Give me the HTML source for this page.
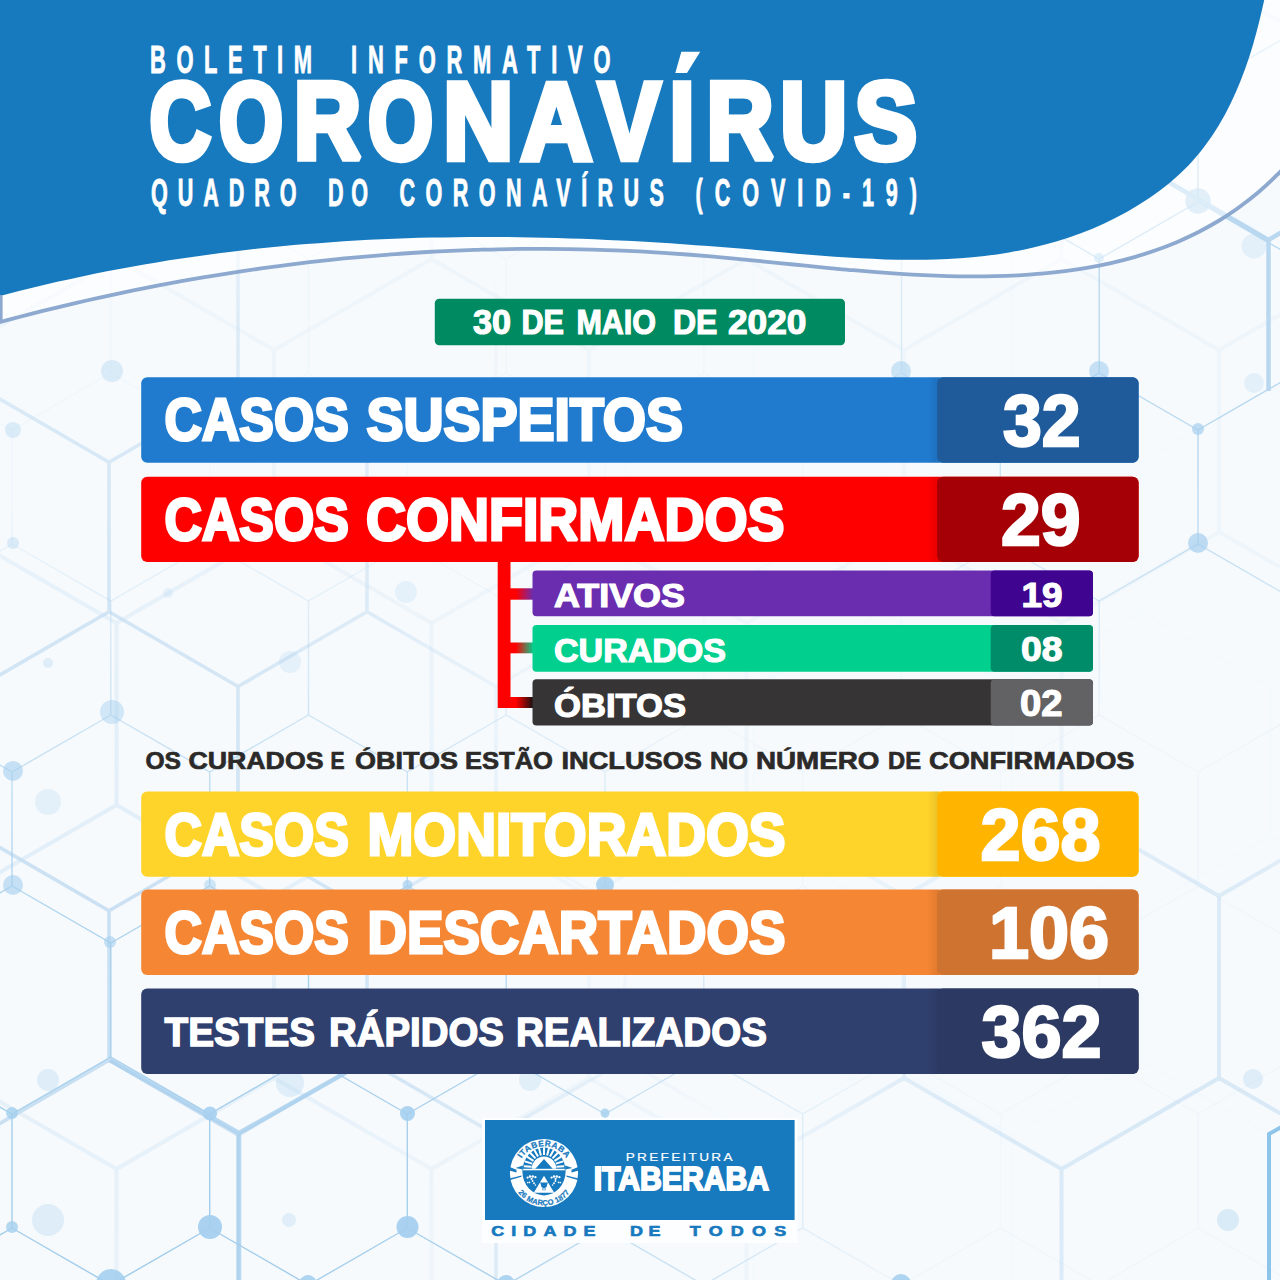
<!DOCTYPE html>
<html lang="pt-BR">
<head>
<meta charset="utf-8">
<title>Boletim Informativo Coronavírus - Prefeitura de Itaberaba</title>
<style>
html,body{margin:0;padding:0;background:#f6fafd;}
body{width:1280px;height:1280px;overflow:hidden;font-family:"Liberation Sans",sans-serif;}
svg{display:block;font-family:"Liberation Sans",sans-serif;}
</style>
</head>
<body>
<svg width="1280" height="1280" viewBox="0 0 1280 1280">
<defs>
<linearGradient id="gp" x1="0" x2="1" y1="0" y2="0"><stop offset="0.25" stop-color="#ff0000"/><stop offset="1" stop-color="#6a2db0"/></linearGradient>
<linearGradient id="gg" x1="0" x2="1" y1="0" y2="0"><stop offset="0.25" stop-color="#ff0000"/><stop offset="1" stop-color="#00cf8e"/></linearGradient>
<linearGradient id="gk" x1="0" x2="1" y1="0" y2="0"><stop offset="0.25" stop-color="#ff0000"/><stop offset="1" stop-color="#111111"/></linearGradient>
<linearGradient id="sh" x1="0" x2="1" y1="0" y2="0"><stop offset="0" stop-color="#000" stop-opacity="0"/><stop offset="1" stop-color="#000" stop-opacity="0.09"/></linearGradient>
<radialGradient id="rA1" gradientUnits="userSpaceOnUse" cx="150" cy="1250" r="760"><stop offset="0" stop-color="#fff"/><stop offset="0.45" stop-color="#fff" stop-opacity="0.85"/><stop offset="1" stop-color="#fff" stop-opacity="0"/></radialGradient>
<radialGradient id="rA2" gradientUnits="userSpaceOnUse" cx="1230" cy="330" r="420"><stop offset="0" stop-color="#fff" stop-opacity="0.8"/><stop offset="0.5" stop-color="#fff" stop-opacity="0.6"/><stop offset="1" stop-color="#fff" stop-opacity="0"/></radialGradient>
<radialGradient id="rB1" gradientUnits="userSpaceOnUse" cx="100" cy="1200" r="620"><stop offset="0" stop-color="#fff"/><stop offset="0.5" stop-color="#fff" stop-opacity="0.7"/><stop offset="1" stop-color="#fff" stop-opacity="0"/></radialGradient>
<radialGradient id="rB2" gradientUnits="userSpaceOnUse" cx="60" cy="600" r="540"><stop offset="0" stop-color="#fff" stop-opacity="0.7"/><stop offset="0.6" stop-color="#fff" stop-opacity="0.45"/><stop offset="1" stop-color="#fff" stop-opacity="0"/></radialGradient>
<radialGradient id="rC1" gradientUnits="userSpaceOnUse" cx="1180" cy="1120" r="430"><stop offset="0" stop-color="#fff"/><stop offset="0.55" stop-color="#fff" stop-opacity="0.8"/><stop offset="1" stop-color="#fff" stop-opacity="0"/></radialGradient>
<radialGradient id="rC2" gradientUnits="userSpaceOnUse" cx="60" cy="900" r="520"><stop offset="0" stop-color="#fff" stop-opacity="0.6"/><stop offset="0.6" stop-color="#fff" stop-opacity="0.35"/><stop offset="1" stop-color="#fff" stop-opacity="0"/></radialGradient>
<mask id="mA" maskUnits="userSpaceOnUse" x="0" y="0" width="1280" height="1280"><rect width="1280" height="1280" fill="#000"/><rect width="1280" height="1280" fill="#fff" opacity="0.07"/><rect width="1280" height="1280" fill="url(#rA1)"/><rect width="1280" height="1280" fill="url(#rA2)"/></mask>
<mask id="mB" maskUnits="userSpaceOnUse" x="0" y="0" width="1280" height="1280"><rect width="1280" height="1280" fill="#000"/><rect width="1280" height="1280" fill="#fff" opacity="0.03"/><rect width="1280" height="1280" fill="url(#rB1)"/><rect width="1280" height="1280" fill="url(#rB2)"/></mask>
<mask id="mC" maskUnits="userSpaceOnUse" x="0" y="0" width="1280" height="1280"><rect width="1280" height="1280" fill="#000"/><rect width="1280" height="1280" fill="#fff" opacity="0.22"/><rect width="1280" height="1280" fill="url(#rC1)"/><rect width="1280" height="1280" fill="url(#rC2)"/></mask>
</defs>
<rect x="0" y="0" width="1280" height="1280" fill="#f6fafd"/>
<g fill="none" stroke-linecap="round">
<path mask="url(#mC)" d="M-41.0,-196.0L-41.0,-14.0 M-41.0,-14.0L116.5,77.0 M-41.0,-14.0L-198.5,77.0 M274.0,-196.0L274.0,-14.0 M274.0,-14.0L431.5,77.0 M274.0,-14.0L116.5,77.0 M589.0,-196.0L589.0,-14.0 M589.0,-14.0L746.5,77.0 M589.0,-14.0L431.5,77.0 M904.0,-196.0L904.0,-14.0 M904.0,-14.0L1061.5,77.0 M904.0,-14.0L746.5,77.0 M1219.0,-196.0L1219.0,-14.0 M1219.0,-14.0L1376.5,77.0 M1219.0,-14.0L1061.5,77.0 M-198.5,77.0L-198.5,259.0 M-198.5,259.0L-41.0,350.0 M-198.5,259.0L-356.0,350.0 M116.5,77.0L116.5,259.0 M116.5,259.0L274.0,350.0 M116.5,259.0L-41.0,350.0 M431.5,77.0L431.5,259.0 M431.5,259.0L589.0,350.0 M431.5,259.0L274.0,350.0 M746.5,77.0L746.5,259.0 M746.5,259.0L904.0,350.0 M746.5,259.0L589.0,350.0 M1061.5,77.0L1061.5,259.0 M1061.5,259.0L1219.0,350.0 M1061.5,259.0L904.0,350.0 M1376.5,77.0L1376.5,259.0 M1376.5,259.0L1534.0,350.0 M1376.5,259.0L1219.0,350.0 M-41.0,350.0L-41.0,532.0 M-41.0,532.0L116.5,623.0 M-41.0,532.0L-198.5,623.0 M274.0,350.0L274.0,532.0 M274.0,532.0L431.5,623.0 M274.0,532.0L116.5,623.0 M589.0,350.0L589.0,532.0 M589.0,532.0L746.5,623.0 M589.0,532.0L431.5,623.0 M904.0,350.0L904.0,532.0 M904.0,532.0L1061.5,623.0 M904.0,532.0L746.5,623.0 M1219.0,350.0L1219.0,532.0 M1219.0,532.0L1376.5,623.0 M1219.0,532.0L1061.5,623.0 M-198.5,623.0L-198.5,805.0 M-198.5,805.0L-41.0,896.0 M-198.5,805.0L-356.0,896.0 M116.5,623.0L116.5,805.0 M116.5,805.0L274.0,896.0 M116.5,805.0L-41.0,896.0 M431.5,623.0L431.5,805.0 M431.5,805.0L589.0,896.0 M431.5,805.0L274.0,896.0 M746.5,623.0L746.5,805.0 M746.5,805.0L904.0,896.0 M746.5,805.0L589.0,896.0 M1061.5,623.0L1061.5,805.0 M1061.5,805.0L1219.0,896.0 M1061.5,805.0L904.0,896.0 M1376.5,623.0L1376.5,805.0 M1376.5,805.0L1534.0,896.0 M1376.5,805.0L1219.0,896.0 M-41.0,896.0L-41.0,1078.0 M-41.0,1078.0L116.5,1169.0 M-41.0,1078.0L-198.5,1169.0 M274.0,896.0L274.0,1078.0 M274.0,1078.0L431.5,1169.0 M274.0,1078.0L116.5,1169.0 M589.0,896.0L589.0,1078.0 M589.0,1078.0L746.5,1169.0 M589.0,1078.0L431.5,1169.0 M904.0,896.0L904.0,1078.0 M904.0,1078.0L1061.5,1169.0 M904.0,1078.0L746.5,1169.0 M1219.0,896.0L1219.0,1078.0 M1219.0,1078.0L1376.5,1169.0 M1219.0,1078.0L1061.5,1169.0 M-198.5,1169.0L-198.5,1351.0 M-198.5,1351.0L-41.0,1442.0 M-198.5,1351.0L-356.0,1442.0 M116.5,1169.0L116.5,1351.0 M116.5,1351.0L274.0,1442.0 M116.5,1351.0L-41.0,1442.0 M431.5,1169.0L431.5,1351.0 M431.5,1351.0L589.0,1442.0 M431.5,1351.0L274.0,1442.0 M746.5,1169.0L746.5,1351.0 M746.5,1351.0L904.0,1442.0 M746.5,1351.0L589.0,1442.0 M1061.5,1169.0L1061.5,1351.0 M1061.5,1351.0L1219.0,1442.0 M1061.5,1351.0L904.0,1442.0 M1376.5,1169.0L1376.5,1351.0 M1376.5,1351.0L1534.0,1442.0 M1376.5,1351.0L1219.0,1442.0" stroke="#d7e8f6" stroke-width="4"/>
<path mask="url(#mB)" d="M-20.0,-210.5L-20.0,-61.0 M-20.0,-61.0L109.0,13.8 M-20.0,-61.0L-149.0,13.8 M238.0,-210.5L238.0,-61.0 M238.0,-61.0L367.0,13.8 M238.0,-61.0L109.0,13.8 M496.0,-210.5L496.0,-61.0 M496.0,-61.0L625.0,13.8 M496.0,-61.0L367.0,13.8 M754.0,-210.5L754.0,-61.0 M754.0,-61.0L883.0,13.8 M754.0,-61.0L625.0,13.8 M1012.0,-210.5L1012.0,-61.0 M1012.0,-61.0L1141.0,13.8 M1012.0,-61.0L883.0,13.8 M1270.0,-210.5L1270.0,-61.0 M1270.0,-61.0L1399.0,13.8 M1270.0,-61.0L1141.0,13.8 M-149.0,13.8L-149.0,163.2 M-149.0,163.2L-20.0,238.0 M-149.0,163.2L-278.0,238.0 M109.0,13.8L109.0,163.2 M109.0,163.2L238.0,238.0 M109.0,163.2L-20.0,238.0 M367.0,13.8L367.0,163.2 M367.0,163.2L496.0,238.0 M367.0,163.2L238.0,238.0 M625.0,13.8L625.0,163.2 M625.0,163.2L754.0,238.0 M625.0,163.2L496.0,238.0 M883.0,13.8L883.0,163.2 M883.0,163.2L1012.0,238.0 M883.0,163.2L754.0,238.0 M1141.0,13.8L1141.0,163.2 M1141.0,163.2L1270.0,238.0 M1141.0,163.2L1012.0,238.0 M1399.0,13.8L1399.0,163.2 M1399.0,163.2L1528.0,238.0 M1399.0,163.2L1270.0,238.0 M-20.0,238.0L-20.0,387.5 M-20.0,387.5L109.0,462.2 M-20.0,387.5L-149.0,462.2 M238.0,238.0L238.0,387.5 M238.0,387.5L367.0,462.2 M238.0,387.5L109.0,462.2 M496.0,238.0L496.0,387.5 M496.0,387.5L625.0,462.2 M496.0,387.5L367.0,462.2 M754.0,238.0L754.0,387.5 M754.0,387.5L883.0,462.2 M754.0,387.5L625.0,462.2 M1012.0,238.0L1012.0,387.5 M1012.0,387.5L1141.0,462.2 M1012.0,387.5L883.0,462.2 M1270.0,238.0L1270.0,387.5 M1270.0,387.5L1399.0,462.2 M1270.0,387.5L1141.0,462.2 M-149.0,462.2L-149.0,611.8 M-149.0,611.8L-20.0,686.5 M-149.0,611.8L-278.0,686.5 M109.0,462.2L109.0,611.8 M109.0,611.8L238.0,686.5 M109.0,611.8L-20.0,686.5 M367.0,462.2L367.0,611.8 M367.0,611.8L496.0,686.5 M367.0,611.8L238.0,686.5 M625.0,462.2L625.0,611.8 M625.0,611.8L754.0,686.5 M625.0,611.8L496.0,686.5 M883.0,462.2L883.0,611.8 M883.0,611.8L1012.0,686.5 M883.0,611.8L754.0,686.5 M1141.0,462.2L1141.0,611.8 M1141.0,611.8L1270.0,686.5 M1141.0,611.8L1012.0,686.5 M1399.0,462.2L1399.0,611.8 M1399.0,611.8L1528.0,686.5 M1399.0,611.8L1270.0,686.5 M-20.0,686.5L-20.0,836.0 M-20.0,836.0L109.0,910.8 M-20.0,836.0L-149.0,910.8 M238.0,686.5L238.0,836.0 M238.0,836.0L367.0,910.8 M238.0,836.0L109.0,910.8 M496.0,686.5L496.0,836.0 M496.0,836.0L625.0,910.8 M496.0,836.0L367.0,910.8 M754.0,686.5L754.0,836.0 M754.0,836.0L883.0,910.8 M754.0,836.0L625.0,910.8 M1012.0,686.5L1012.0,836.0 M1012.0,836.0L1141.0,910.8 M1012.0,836.0L883.0,910.8 M1270.0,686.5L1270.0,836.0 M1270.0,836.0L1399.0,910.8 M1270.0,836.0L1141.0,910.8 M-149.0,910.8L-149.0,1060.2 M-149.0,1060.2L-20.0,1135.0 M-149.0,1060.2L-278.0,1135.0 M109.0,910.8L109.0,1060.2 M109.0,1060.2L238.0,1135.0 M109.0,1060.2L-20.0,1135.0 M367.0,910.8L367.0,1060.2 M367.0,1060.2L496.0,1135.0 M367.0,1060.2L238.0,1135.0 M625.0,910.8L625.0,1060.2 M625.0,1060.2L754.0,1135.0 M625.0,1060.2L496.0,1135.0 M883.0,910.8L883.0,1060.2 M883.0,1060.2L1012.0,1135.0 M883.0,1060.2L754.0,1135.0 M1141.0,910.8L1141.0,1060.2 M1141.0,1060.2L1270.0,1135.0 M1141.0,1060.2L1012.0,1135.0 M1399.0,910.8L1399.0,1060.2 M1399.0,1060.2L1528.0,1135.0 M1399.0,1060.2L1270.0,1135.0 M-20.0,1135.0L-20.0,1284.5 M-20.0,1284.5L109.0,1359.2 M-20.0,1284.5L-149.0,1359.2 M238.0,1135.0L238.0,1284.5 M238.0,1284.5L367.0,1359.2 M238.0,1284.5L109.0,1359.2 M496.0,1135.0L496.0,1284.5 M496.0,1284.5L625.0,1359.2 M496.0,1284.5L367.0,1359.2 M754.0,1135.0L754.0,1284.5 M754.0,1284.5L883.0,1359.2 M754.0,1284.5L625.0,1359.2 M1012.0,1135.0L1012.0,1284.5 M1012.0,1284.5L1141.0,1359.2 M1012.0,1284.5L883.0,1359.2 M1270.0,1135.0L1270.0,1284.5 M1270.0,1284.5L1399.0,1359.2 M1270.0,1284.5L1141.0,1359.2" stroke="#c3dcf1" stroke-width="3.6"/>
<path mask="url(#mA)" d="M-86.9,-83.0L-86.9,31.0 M-86.9,31.0L12.0,88.0 M-86.9,31.0L-185.7,88.0 M110.8,-83.0L110.8,31.0 M110.8,31.0L209.7,88.0 M110.8,31.0L12.0,88.0 M308.5,-83.0L308.5,31.0 M308.5,31.0L407.3,88.0 M308.5,31.0L209.7,88.0 M506.2,-83.0L506.2,31.0 M506.2,31.0L605.0,88.0 M506.2,31.0L407.3,88.0 M703.8,-83.0L703.8,31.0 M703.8,31.0L802.7,88.0 M703.8,31.0L605.0,88.0 M901.5,-83.0L901.5,31.0 M901.5,31.0L1000.3,88.0 M901.5,31.0L802.7,88.0 M1099.2,-83.0L1099.2,31.0 M1099.2,31.0L1198.0,88.0 M1099.2,31.0L1000.3,88.0 M1296.8,-83.0L1296.8,31.0 M1296.8,31.0L1395.7,88.0 M1296.8,31.0L1198.0,88.0 M12.0,88.0L12.0,202.0 M12.0,202.0L110.8,259.0 M12.0,202.0L-86.9,259.0 M209.7,88.0L209.7,202.0 M209.7,202.0L308.5,259.0 M209.7,202.0L110.8,259.0 M407.3,88.0L407.3,202.0 M407.3,202.0L506.2,259.0 M407.3,202.0L308.5,259.0 M605.0,88.0L605.0,202.0 M605.0,202.0L703.8,259.0 M605.0,202.0L506.2,259.0 M802.7,88.0L802.7,202.0 M802.7,202.0L901.5,259.0 M802.7,202.0L703.8,259.0 M1000.3,88.0L1000.3,202.0 M1000.3,202.0L1099.2,259.0 M1000.3,202.0L901.5,259.0 M1198.0,88.0L1198.0,202.0 M1198.0,202.0L1296.8,259.0 M1198.0,202.0L1099.2,259.0 M1395.7,88.0L1395.7,202.0 M1395.7,202.0L1494.5,259.0 M1395.7,202.0L1296.8,259.0 M-86.9,259.0L-86.9,373.0 M-86.9,373.0L12.0,430.0 M-86.9,373.0L-185.7,430.0 M110.8,259.0L110.8,373.0 M110.8,373.0L209.7,430.0 M110.8,373.0L12.0,430.0 M308.5,259.0L308.5,373.0 M308.5,373.0L407.3,430.0 M308.5,373.0L209.7,430.0 M506.2,259.0L506.2,373.0 M506.2,373.0L605.0,430.0 M506.2,373.0L407.3,430.0 M703.8,259.0L703.8,373.0 M703.8,373.0L802.7,430.0 M703.8,373.0L605.0,430.0 M901.5,259.0L901.5,373.0 M901.5,373.0L1000.3,430.0 M901.5,373.0L802.7,430.0 M1099.2,259.0L1099.2,373.0 M1099.2,373.0L1198.0,430.0 M1099.2,373.0L1000.3,430.0 M1296.8,259.0L1296.8,373.0 M1296.8,373.0L1395.7,430.0 M1296.8,373.0L1198.0,430.0 M12.0,430.0L12.0,544.0 M12.0,544.0L110.8,601.0 M12.0,544.0L-86.9,601.0 M209.7,430.0L209.7,544.0 M209.7,544.0L308.5,601.0 M209.7,544.0L110.8,601.0 M407.3,430.0L407.3,544.0 M407.3,544.0L506.2,601.0 M407.3,544.0L308.5,601.0 M605.0,430.0L605.0,544.0 M605.0,544.0L703.8,601.0 M605.0,544.0L506.2,601.0 M802.7,430.0L802.7,544.0 M802.7,544.0L901.5,601.0 M802.7,544.0L703.8,601.0 M1000.3,430.0L1000.3,544.0 M1000.3,544.0L1099.2,601.0 M1000.3,544.0L901.5,601.0 M1198.0,430.0L1198.0,544.0 M1198.0,544.0L1296.8,601.0 M1198.0,544.0L1099.2,601.0 M1395.7,430.0L1395.7,544.0 M1395.7,544.0L1494.5,601.0 M1395.7,544.0L1296.8,601.0 M-86.9,601.0L-86.9,715.0 M-86.9,715.0L12.0,772.0 M-86.9,715.0L-185.7,772.0 M110.8,601.0L110.8,715.0 M110.8,715.0L209.7,772.0 M110.8,715.0L12.0,772.0 M308.5,601.0L308.5,715.0 M308.5,715.0L407.3,772.0 M308.5,715.0L209.7,772.0 M506.2,601.0L506.2,715.0 M506.2,715.0L605.0,772.0 M506.2,715.0L407.3,772.0 M703.8,601.0L703.8,715.0 M703.8,715.0L802.7,772.0 M703.8,715.0L605.0,772.0 M901.5,601.0L901.5,715.0 M901.5,715.0L1000.3,772.0 M901.5,715.0L802.7,772.0 M1099.2,601.0L1099.2,715.0 M1099.2,715.0L1198.0,772.0 M1099.2,715.0L1000.3,772.0 M1296.8,601.0L1296.8,715.0 M1296.8,715.0L1395.7,772.0 M1296.8,715.0L1198.0,772.0 M12.0,772.0L12.0,886.0 M12.0,886.0L110.8,943.0 M12.0,886.0L-86.9,943.0 M209.7,772.0L209.7,886.0 M209.7,886.0L308.5,943.0 M209.7,886.0L110.8,943.0 M407.3,772.0L407.3,886.0 M407.3,886.0L506.2,943.0 M407.3,886.0L308.5,943.0 M605.0,772.0L605.0,886.0 M605.0,886.0L703.8,943.0 M605.0,886.0L506.2,943.0 M802.7,772.0L802.7,886.0 M802.7,886.0L901.5,943.0 M802.7,886.0L703.8,943.0 M1000.3,772.0L1000.3,886.0 M1000.3,886.0L1099.2,943.0 M1000.3,886.0L901.5,943.0 M1198.0,772.0L1198.0,886.0 M1198.0,886.0L1296.8,943.0 M1198.0,886.0L1099.2,943.0 M1395.7,772.0L1395.7,886.0 M1395.7,886.0L1494.5,943.0 M1395.7,886.0L1296.8,943.0 M-86.9,943.0L-86.9,1057.0 M-86.9,1057.0L12.0,1114.0 M-86.9,1057.0L-185.7,1114.0 M110.8,943.0L110.8,1057.0 M110.8,1057.0L209.7,1114.0 M110.8,1057.0L12.0,1114.0 M308.5,943.0L308.5,1057.0 M308.5,1057.0L407.3,1114.0 M308.5,1057.0L209.7,1114.0 M506.2,943.0L506.2,1057.0 M506.2,1057.0L605.0,1114.0 M506.2,1057.0L407.3,1114.0 M703.8,943.0L703.8,1057.0 M703.8,1057.0L802.7,1114.0 M703.8,1057.0L605.0,1114.0 M901.5,943.0L901.5,1057.0 M901.5,1057.0L1000.3,1114.0 M901.5,1057.0L802.7,1114.0 M1099.2,943.0L1099.2,1057.0 M1099.2,1057.0L1198.0,1114.0 M1099.2,1057.0L1000.3,1114.0 M1296.8,943.0L1296.8,1057.0 M1296.8,1057.0L1395.7,1114.0 M1296.8,1057.0L1198.0,1114.0 M12.0,1114.0L12.0,1228.0 M12.0,1228.0L110.8,1285.0 M12.0,1228.0L-86.9,1285.0 M209.7,1114.0L209.7,1228.0 M209.7,1228.0L308.5,1285.0 M209.7,1228.0L110.8,1285.0 M407.3,1114.0L407.3,1228.0 M407.3,1228.0L506.2,1285.0 M407.3,1228.0L308.5,1285.0 M605.0,1114.0L605.0,1228.0 M605.0,1228.0L703.8,1285.0 M605.0,1228.0L506.2,1285.0 M802.7,1114.0L802.7,1228.0 M802.7,1228.0L901.5,1285.0 M802.7,1228.0L703.8,1285.0 M1000.3,1114.0L1000.3,1228.0 M1000.3,1228.0L1099.2,1285.0 M1000.3,1228.0L901.5,1285.0 M1198.0,1114.0L1198.0,1228.0 M1198.0,1228.0L1296.8,1285.0 M1198.0,1228.0L1099.2,1285.0 M1395.7,1114.0L1395.7,1228.0 M1395.7,1228.0L1494.5,1285.0 M1395.7,1228.0L1296.8,1285.0 M-86.9,1285.0L-86.9,1399.0 M-86.9,1399.0L12.0,1456.0 M-86.9,1399.0L-185.7,1456.0 M110.8,1285.0L110.8,1399.0 M110.8,1399.0L209.7,1456.0 M110.8,1399.0L12.0,1456.0 M308.5,1285.0L308.5,1399.0 M308.5,1399.0L407.3,1456.0 M308.5,1399.0L209.7,1456.0 M506.2,1285.0L506.2,1399.0 M506.2,1399.0L605.0,1456.0 M506.2,1399.0L407.3,1456.0 M703.8,1285.0L703.8,1399.0 M703.8,1399.0L802.7,1456.0 M703.8,1399.0L605.0,1456.0 M901.5,1285.0L901.5,1399.0 M901.5,1399.0L1000.3,1456.0 M901.5,1399.0L802.7,1456.0 M1099.2,1285.0L1099.2,1399.0 M1099.2,1399.0L1198.0,1456.0 M1099.2,1399.0L1000.3,1456.0 M1296.8,1285.0L1296.8,1399.0 M1296.8,1399.0L1395.7,1456.0 M1296.8,1399.0L1198.0,1456.0" stroke="#9fcbea" stroke-width="1.4"/>
</g>
<g fill="#a5cfee">
<circle cx="1198" cy="201" r="12.7" opacity="0.62"/>
<circle cx="1099" cy="258" r="5" opacity="0.6"/>
<circle cx="1099" cy="371" r="10" opacity="0.6"/>
<circle cx="1198" cy="429" r="6" opacity="0.7"/>
<circle cx="1198" cy="543" r="10" opacity="0.7"/>
<circle cx="1254" cy="246" r="12.5" opacity="0.22"/>
<circle cx="1254" cy="383" r="10" opacity="0.22"/>
<circle cx="901" cy="371" r="10" opacity="0.55"/>
<circle cx="210" cy="1113.5" r="7" opacity="0.9"/>
<circle cx="210" cy="1227" r="12" opacity="0.95"/>
<circle cx="407.5" cy="1113.5" r="7.5" opacity="0.9"/>
<circle cx="407.5" cy="1227" r="11" opacity="0.95"/>
<circle cx="12" cy="1113" r="6" opacity="0.8"/>
<circle cx="12" cy="1227" r="6" opacity="0.8"/>
<circle cx="605" cy="1113" r="4.5" opacity="0.8"/>
<circle cx="111" cy="1284" r="15" opacity="0.9"/>
<circle cx="308" cy="1284" r="9" opacity="0.9"/>
<circle cx="506" cy="1284" r="9" opacity="0.9"/>
<circle cx="901" cy="1284" r="10" opacity="0.9"/>
<circle cx="48" cy="1220" r="16" opacity="0.3"/>
<circle cx="48" cy="1080" r="11" opacity="0.3"/>
<circle cx="290" cy="1083" r="14" opacity="0.28"/>
<circle cx="289" cy="1220" r="7" opacity="0.28"/>
<circle cx="530" cy="1080" r="11" opacity="0.25"/>
<circle cx="112" cy="371" r="11" opacity="0.35"/>
<circle cx="13" cy="430" r="8" opacity="0.35"/>
<circle cx="13" cy="543" r="6" opacity="0.35"/>
<circle cx="112" cy="712" r="12" opacity="0.45"/>
<circle cx="13" cy="771" r="10" opacity="0.6"/>
<circle cx="406" cy="592" r="11" opacity="0.2"/>
<circle cx="290" cy="662" r="11" opacity="0.2"/>
<circle cx="48" cy="663" r="5" opacity="0.3"/>
<circle cx="168" cy="593" r="5" opacity="0.2"/>
<circle cx="13" cy="885" r="10" opacity="0.6"/>
<circle cx="110" cy="942" r="6" opacity="0.6"/>
<circle cx="48" cy="802" r="13" opacity="0.22"/>
<circle cx="407.5" cy="885" r="5" opacity="0.7"/>
<circle cx="605" cy="885" r="9" opacity="0.85"/>
<circle cx="210" cy="885" r="6" opacity="0.5"/>
<circle cx="1253" cy="1079" r="10" opacity="0.3"/>
<circle cx="1228" cy="1220" r="11" opacity="0.35"/>
</g>
<path d="M1139,165 L1268.5,240 L1268.5,391 M1268.5,240 L1290,227" stroke="#b9d8f0" stroke-width="4.5" fill="none" stroke-linejoin="round"/>
<path d="M1269,1290 L1269,1134 L1290,1122" stroke="#8cc4ea" stroke-width="4" fill="none" stroke-linejoin="round"/>
<path d="M239,1290 L239,1133 L110,1060 M239,1133 L368,1060" stroke="#a9d0ee" stroke-width="4.5" fill="none" stroke-linejoin="round" opacity="0.8"/>
<path d="M-38.9,333.0 C-35.1,331.9 -23.6,328.6 -15.9,326.4 C-8.2,324.3 -0.5,322.2 7.2,320.2 C14.9,318.1 22.5,316.1 30.2,314.1 C37.9,312.2 45.7,310.2 53.4,308.3 C61.1,306.5 68.8,304.6 76.5,302.8 C84.2,301.0 92.0,299.3 99.7,297.6 C107.4,295.9 115.2,294.2 122.9,292.6 C130.6,291.0 138.4,289.4 146.1,287.9 C153.9,286.3 161.6,284.8 169.4,283.4 C177.2,281.9 184.9,280.5 192.7,279.2 C200.5,277.8 208.2,276.5 216.0,275.3 C223.8,274.0 231.6,272.8 239.4,271.6 C247.2,270.4 255.0,269.3 262.8,268.2 C270.5,267.1 278.3,266.1 286.1,265.1 C294.0,264.1 301.8,263.1 309.6,262.2 C317.4,261.3 325.2,260.4 333.0,259.6 C340.8,258.8 348.7,258.0 356.5,257.3 C364.3,256.6 372.1,255.9 380.0,255.3 C387.8,254.6 395.6,254.1 403.5,253.5 C411.3,253.0 419.2,252.5 427.0,252.0 C434.9,251.6 442.7,251.2 450.6,250.8 C458.4,250.5 466.3,250.2 474.1,249.9 C482.0,249.7 489.9,249.4 497.7,249.3 C505.6,249.1 513.5,249.0 521.3,248.9 C529.2,248.9 537.1,248.8 544.9,248.9 C552.8,248.9 560.7,249.0 568.6,249.1 C576.5,249.2 584.3,249.4 592.2,249.6 C600.1,249.8 608.0,250.0 615.9,250.4 C623.8,250.7 631.7,251.0 639.6,251.4 C647.5,251.8 655.4,252.3 663.3,252.8 C671.2,253.3 679.1,253.9 687.0,254.5 C694.9,255.1 702.8,255.7 710.7,256.4 C718.6,257.1 726.5,257.8 734.4,258.6 C742.3,259.3 750.2,260.1 758.1,260.9 C766.0,261.7 773.9,262.5 781.8,263.3 C789.7,264.1 797.6,264.9 805.5,265.7 C813.4,266.5 821.3,267.3 829.2,268.1 C837.1,268.8 845.0,269.6 852.9,270.2 C860.8,270.9 868.7,271.6 876.6,272.2 C884.5,272.8 892.4,273.4 900.3,273.9 C908.2,274.4 916.0,274.8 923.9,275.2 C931.8,275.6 939.7,275.9 947.5,276.1 C955.4,276.3 963.3,276.4 971.1,276.4 C979.0,276.4 986.8,276.4 994.7,276.2 C1002.5,276.0 1010.3,275.7 1018.2,275.3 C1026.0,274.8 1033.8,274.3 1041.6,273.6 C1049.4,272.9 1057.2,272.1 1064.9,271.1 C1072.7,270.1 1080.4,269.0 1088.1,267.6 C1095.7,266.3 1103.4,264.8 1110.9,263.1 C1118.5,261.3 1126.0,259.4 1133.5,257.3 C1140.9,255.2 1148.3,252.9 1155.7,250.3 C1163.0,247.7 1170.2,244.9 1177.4,241.9 C1184.5,238.8 1191.6,235.6 1198.6,232.0 C1205.5,228.4 1212.4,224.6 1219.2,220.5 C1225.9,216.3 1232.6,212.0 1239.1,207.2 C1245.6,202.5 1252.1,197.5 1258.4,192.2 C1264.6,186.9 1270.8,181.2 1276.8,175.2 C1282.8,169.2 1288.7,162.9 1294.4,156.2 C1300.1,149.5 1308.3,138.6 1311.1,135.1 L1320,-30 L-30,-30 Z" fill="#ffffff" opacity="0.5"/>
<path d="M-38.9,333.0 C-35.1,331.9 -23.6,328.6 -15.9,326.4 C-8.2,324.3 -0.5,322.2 7.2,320.2 C14.9,318.1 22.5,316.1 30.2,314.1 C37.9,312.2 45.7,310.2 53.4,308.3 C61.1,306.5 68.8,304.6 76.5,302.8 C84.2,301.0 92.0,299.3 99.7,297.6 C107.4,295.9 115.2,294.2 122.9,292.6 C130.6,291.0 138.4,289.4 146.1,287.9 C153.9,286.3 161.6,284.8 169.4,283.4 C177.2,281.9 184.9,280.5 192.7,279.2 C200.5,277.8 208.2,276.5 216.0,275.3 C223.8,274.0 231.6,272.8 239.4,271.6 C247.2,270.4 255.0,269.3 262.8,268.2 C270.5,267.1 278.3,266.1 286.1,265.1 C294.0,264.1 301.8,263.1 309.6,262.2 C317.4,261.3 325.2,260.4 333.0,259.6 C340.8,258.8 348.7,258.0 356.5,257.3 C364.3,256.6 372.1,255.9 380.0,255.3 C387.8,254.6 395.6,254.1 403.5,253.5 C411.3,253.0 419.2,252.5 427.0,252.0 C434.9,251.6 442.7,251.2 450.6,250.8 C458.4,250.5 466.3,250.2 474.1,249.9 C482.0,249.7 489.9,249.4 497.7,249.3 C505.6,249.1 513.5,249.0 521.3,248.9 C529.2,248.9 537.1,248.8 544.9,248.9 C552.8,248.9 560.7,249.0 568.6,249.1 C576.5,249.2 584.3,249.4 592.2,249.6 C600.1,249.8 608.0,250.0 615.9,250.4 C623.8,250.7 631.7,251.0 639.6,251.4 C647.5,251.8 655.4,252.3 663.3,252.8 C671.2,253.3 679.1,253.9 687.0,254.5 C694.9,255.1 702.8,255.7 710.7,256.4 C718.6,257.1 726.5,257.8 734.4,258.6 C742.3,259.3 750.2,260.1 758.1,260.9 C766.0,261.7 773.9,262.5 781.8,263.3 C789.7,264.1 797.6,264.9 805.5,265.7 C813.4,266.5 821.3,267.3 829.2,268.1 C837.1,268.8 845.0,269.6 852.9,270.2 C860.8,270.9 868.7,271.6 876.6,272.2 C884.5,272.8 892.4,273.4 900.3,273.9 C908.2,274.4 916.0,274.8 923.9,275.2 C931.8,275.6 939.7,275.9 947.5,276.1 C955.4,276.3 963.3,276.4 971.1,276.4 C979.0,276.4 986.8,276.4 994.7,276.2 C1002.5,276.0 1010.3,275.7 1018.2,275.3 C1026.0,274.8 1033.8,274.3 1041.6,273.6 C1049.4,272.9 1057.2,272.1 1064.9,271.1 C1072.7,270.1 1080.4,269.0 1088.1,267.6 C1095.7,266.3 1103.4,264.8 1110.9,263.1 C1118.5,261.3 1126.0,259.4 1133.5,257.3 C1140.9,255.2 1148.3,252.9 1155.7,250.3 C1163.0,247.7 1170.2,244.9 1177.4,241.9 C1184.5,238.8 1191.6,235.6 1198.6,232.0 C1205.5,228.4 1212.4,224.6 1219.2,220.5 C1225.9,216.3 1232.6,212.0 1239.1,207.2 C1245.6,202.5 1252.1,197.5 1258.4,192.2 C1264.6,186.9 1270.8,181.2 1276.8,175.2 C1282.8,169.2 1288.7,162.9 1294.4,156.2 C1300.1,149.5 1308.3,138.6 1311.1,135.1" fill="none" stroke="#8ea9cf" stroke-width="3.8"/>
<path d="M-42.0,307.7 C-37.9,306.5 -25.5,302.9 -17.2,300.6 C-9.0,298.3 -0.7,296.1 7.6,293.9 C15.8,291.8 24.1,289.7 32.4,287.7 C40.6,285.7 48.9,283.7 57.2,281.8 C65.5,280.0 73.8,278.1 82.0,276.4 C90.3,274.6 98.6,273.0 106.9,271.3 C115.2,269.7 123.5,268.2 131.8,266.7 C140.1,265.2 148.3,263.7 156.6,262.4 C164.9,261.0 173.2,259.7 181.5,258.5 C189.8,257.2 198.1,256.0 206.4,254.9 C214.7,253.8 223.1,252.7 231.4,251.7 C239.7,250.7 248.0,249.7 256.3,248.8 C264.6,247.9 272.9,247.1 281.3,246.3 C289.6,245.5 297.9,244.8 306.2,244.1 C314.5,243.4 322.9,242.8 331.2,242.2 C339.5,241.6 347.9,241.1 356.2,240.6 C364.6,240.1 372.9,239.7 381.2,239.3 C389.6,238.9 397.9,238.6 406.3,238.3 C414.6,238.0 423.0,237.8 431.3,237.6 C439.7,237.4 448.0,237.3 456.4,237.2 C464.8,237.1 473.1,237.0 481.5,237.0 C489.9,237.0 498.2,237.0 506.6,237.1 C515.0,237.2 523.4,237.3 531.8,237.4 C540.1,237.6 548.5,237.8 556.9,238.0 C565.3,238.3 573.7,238.5 582.1,238.8 C590.5,239.1 598.9,239.5 607.3,239.9 C615.7,240.2 624.1,240.7 632.5,241.1 C640.9,241.6 649.3,242.1 657.8,242.6 C666.2,243.1 674.6,243.6 683.0,244.2 C691.4,244.8 699.9,245.4 708.3,246.1 C716.7,246.7 725.2,247.4 733.6,248.1 C742.1,248.8 750.5,249.5 759.0,250.3 C767.4,251.0 775.9,251.8 784.3,252.5 C792.7,253.3 801.2,254.0 809.6,254.7 C818.1,255.4 826.5,256.1 834.9,256.7 C843.3,257.3 851.8,257.8 860.2,258.3 C868.6,258.7 876.9,259.1 885.3,259.4 C893.7,259.6 902.0,259.8 910.3,259.8 C918.7,259.9 927.0,259.8 935.3,259.5 C943.5,259.2 951.8,258.8 960.0,258.3 C968.2,257.7 976.5,256.9 984.6,255.9 C992.8,255.0 1000.9,253.8 1009.0,252.4 C1017.1,251.0 1025.2,249.4 1033.2,247.5 C1041.2,245.7 1049.2,243.6 1057.1,241.2 C1065.1,238.8 1072.9,236.1 1080.8,233.2 C1088.6,230.2 1096.4,227.0 1104.2,223.4 C1111.9,219.8 1119.7,215.9 1127.2,211.7 C1134.7,207.5 1142.2,203.0 1149.4,198.1 C1156.5,193.3 1163.5,188.1 1170.1,182.6 C1176.7,177.1 1182.9,171.3 1188.7,165.3 C1194.5,159.2 1199.8,152.8 1204.8,146.1 C1209.8,139.5 1214.4,132.6 1218.7,125.5 C1223.0,118.4 1226.9,111.0 1230.6,103.5 C1234.3,96.0 1237.6,88.3 1240.7,80.5 C1243.8,72.8 1246.6,64.8 1249.3,56.8 C1251.9,48.8 1254.2,40.7 1256.4,32.6 C1258.6,24.5 1260.6,16.3 1262.4,8.1 C1264.3,-0.0 1265.9,-8.2 1267.5,-16.3 C1269.0,-24.4 1271.0,-36.3 1271.7,-40.3 L1290,-30 L-30,-30 Z" fill="#1779be"/>
<rect x="0" y="295" width="2.6" height="27" fill="#8ea9cf"/>
<text transform="translate(150.00,73.15) scale(0.56,1)" font-size="39.1" font-weight="bold" fill="#ffffff" stroke="#ffffff" stroke-width="0.9" stroke-linejoin="miter" stroke-miterlimit="2" textLength="289.29" lengthAdjust="spacing">BOLETIM</text>
<text transform="translate(351.00,73.15) scale(0.56,1)" font-size="39.1" font-weight="bold" fill="#ffffff" stroke="#ffffff" stroke-width="0.9" stroke-linejoin="miter" stroke-miterlimit="2" textLength="463.39" lengthAdjust="spacing">INFORMATIVO</text>
<text x="149.50" y="159.35" font-size="108.72" font-weight="bold" fill="#ffffff" stroke="#ffffff" stroke-width="6.5" stroke-linejoin="miter" stroke-miterlimit="2" textLength="61.52" lengthAdjust="spacingAndGlyphs">C</text>
<text x="218.97" y="159.35" font-size="108.72" font-weight="bold" fill="#ffffff" stroke="#ffffff" stroke-width="6.5" stroke-linejoin="miter" stroke-miterlimit="2" textLength="64.04" lengthAdjust="spacingAndGlyphs">O</text>
<text x="293.85" y="159.35" font-size="108.72" font-weight="bold" fill="#ffffff" stroke="#ffffff" stroke-width="6.5" stroke-linejoin="miter" stroke-miterlimit="2" textLength="67.36" lengthAdjust="spacingAndGlyphs">R</text>
<text x="367.97" y="159.35" font-size="108.72" font-weight="bold" fill="#ffffff" stroke="#ffffff" stroke-width="6.5" stroke-linejoin="miter" stroke-miterlimit="2" textLength="65.07" lengthAdjust="spacingAndGlyphs">O</text>
<text x="443.21" y="159.35" font-size="108.72" font-weight="bold" fill="#ffffff" stroke="#ffffff" stroke-width="6.5" stroke-linejoin="miter" stroke-miterlimit="2" textLength="70.08" lengthAdjust="spacingAndGlyphs">N</text>
<text x="520.67" y="159.35" font-size="108.72" font-weight="bold" fill="#ffffff" stroke="#ffffff" stroke-width="6.5" stroke-linejoin="miter" stroke-miterlimit="2" textLength="71.40" lengthAdjust="spacingAndGlyphs">A</text>
<text x="598.60" y="159.35" font-size="108.72" font-weight="bold" fill="#ffffff" stroke="#ffffff" stroke-width="6.5" stroke-linejoin="miter" stroke-miterlimit="2" textLength="61.76" lengthAdjust="spacingAndGlyphs">V</text>
<text x="669.52" y="159.35" font-size="108.72" font-weight="bold" fill="#ffffff" stroke="#ffffff" stroke-width="6.5" stroke-linejoin="miter" stroke-miterlimit="2" textLength="25.06" lengthAdjust="spacingAndGlyphs">I</text>
<text x="706.38" y="159.35" font-size="108.72" font-weight="bold" fill="#ffffff" stroke="#ffffff" stroke-width="6.5" stroke-linejoin="miter" stroke-miterlimit="2" textLength="67.12" lengthAdjust="spacingAndGlyphs">R</text>
<text x="780.32" y="159.35" font-size="108.72" font-weight="bold" fill="#ffffff" stroke="#ffffff" stroke-width="6.5" stroke-linejoin="miter" stroke-miterlimit="2" textLength="66.82" lengthAdjust="spacingAndGlyphs">U</text>
<text x="854.48" y="159.35" font-size="108.72" font-weight="bold" fill="#ffffff" stroke="#ffffff" stroke-width="6.5" stroke-linejoin="miter" stroke-miterlimit="2" textLength="62.51" lengthAdjust="spacingAndGlyphs">S</text>
<text transform="translate(151.00,205.75) scale(0.56,1)" font-size="38.52" font-weight="bold" fill="#ffffff" stroke="#ffffff" stroke-width="0.9" stroke-linejoin="miter" stroke-miterlimit="2" textLength="259.82" lengthAdjust="spacing">QUADRO</text>
<text transform="translate(328.00,205.75) scale(0.56,1)" font-size="38.52" font-weight="bold" fill="#ffffff" stroke="#ffffff" stroke-width="0.9" stroke-linejoin="miter" stroke-miterlimit="2" textLength="71.43" lengthAdjust="spacing">DO</text>
<text transform="translate(399.50,205.75) scale(0.56,1)" font-size="38.52" font-weight="bold" fill="#ffffff" stroke="#ffffff" stroke-width="0.9" stroke-linejoin="miter" stroke-miterlimit="2" textLength="472.32" lengthAdjust="spacing">CORONAVÍRUS</text>
<text transform="translate(695.50,205.75) scale(0.56,1)" font-size="38.52" font-weight="bold" fill="#ffffff" stroke="#ffffff" stroke-width="0.9" stroke-linejoin="miter" stroke-miterlimit="2" textLength="395.54" lengthAdjust="spacing">(COVID-19)</text>
<path d="M681.3,51.7 L700.2,51.7 L687,72.9 L675.3,72.9 Z" fill="#fff"/>
<rect x="434.8" y="298.8" width="410.2" height="46.4" rx="4.5" fill="#008a61"/>
<text x="473.00" y="334.20" font-size="35.03" font-weight="bold" fill="#ffffff" stroke="#ffffff" stroke-width="1.2" stroke-linejoin="miter" stroke-miterlimit="2" textLength="38.00" lengthAdjust="spacingAndGlyphs">30</text>
<text x="521.50" y="334.20" font-size="35.03" font-weight="bold" fill="#ffffff" stroke="#ffffff" stroke-width="1.2" stroke-linejoin="miter" stroke-miterlimit="2" textLength="42.51" lengthAdjust="spacingAndGlyphs">DE</text>
<text x="576.50" y="334.20" font-size="35.03" font-weight="bold" fill="#ffffff" stroke="#ffffff" stroke-width="1.2" stroke-linejoin="miter" stroke-miterlimit="2" textLength="79.51" lengthAdjust="spacingAndGlyphs">MAIO</text>
<text x="672.98" y="334.20" font-size="35.03" font-weight="bold" fill="#ffffff" stroke="#ffffff" stroke-width="1.2" stroke-linejoin="miter" stroke-miterlimit="2" textLength="44.52" lengthAdjust="spacingAndGlyphs">DE</text>
<text x="727.99" y="334.20" font-size="35.03" font-weight="bold" fill="#ffffff" stroke="#ffffff" stroke-width="1.2" stroke-linejoin="miter" stroke-miterlimit="2" textLength="78.52" lengthAdjust="spacingAndGlyphs">2020</text>
<rect x="141.2" y="377.3" width="997.4" height="85.4" rx="6" fill="#207bcf"/>
<rect x="927" y="377.3" width="12" height="85.4" fill="url(#sh)"/>
<rect x="937.1" y="377.3" width="201.5" height="85.4" rx="6" fill="#1f5b9b"/>
<text x="164.50" y="440.40" font-size="59.01" font-weight="bold" fill="#ffffff" stroke="#ffffff" stroke-width="3.0" stroke-linejoin="miter" stroke-miterlimit="2" textLength="184.26" lengthAdjust="spacingAndGlyphs">CASOS</text>
<text x="366.50" y="440.40" font-size="59.01" font-weight="bold" fill="#ffffff" stroke="#ffffff" stroke-width="3.0" stroke-linejoin="miter" stroke-miterlimit="2" textLength="316.50" lengthAdjust="spacingAndGlyphs">SUSPEITOS</text>
<text x="1003.00" y="446.05" font-size="72.88" font-weight="bold" fill="#ffffff" stroke="#ffffff" stroke-width="2.5" stroke-linejoin="miter" stroke-miterlimit="2" textLength="77.53" lengthAdjust="spacingAndGlyphs">32</text>
<rect x="141.2" y="476.7" width="997.4" height="85.4" rx="6" fill="#ff0000"/>
<rect x="927" y="476.7" width="12" height="85.4" fill="url(#sh)"/>
<rect x="937.1" y="476.7" width="201.5" height="85.4" rx="6" fill="#a50005"/>
<text x="164.50" y="539.60" font-size="59.01" font-weight="bold" fill="#ffffff" stroke="#ffffff" stroke-width="3.0" stroke-linejoin="miter" stroke-miterlimit="2" textLength="184.26" lengthAdjust="spacingAndGlyphs">CASOS</text>
<text x="366.00" y="539.60" font-size="59.01" font-weight="bold" fill="#ffffff" stroke="#ffffff" stroke-width="3.0" stroke-linejoin="miter" stroke-miterlimit="2" textLength="418.51" lengthAdjust="spacingAndGlyphs">CONFIRMADOS</text>
<text x="1000.97" y="545.35" font-size="72.88" font-weight="bold" fill="#ffffff" stroke="#ffffff" stroke-width="2.5" stroke-linejoin="miter" stroke-miterlimit="2" textLength="79.57" lengthAdjust="spacingAndGlyphs">29</text>
<rect x="497.7" y="556" width="12.8" height="152" fill="#ff0000"/>
<rect x="510" y="588.3" width="23.5" height="11.4" fill="url(#gp)"/>
<rect x="510" y="642.5" width="23.5" height="10.8" fill="url(#gg)"/>
<rect x="510" y="697" width="23.5" height="11" fill="url(#gk)"/>
<rect x="532.5" y="570.4" width="560.5" height="45.8" rx="4" fill="#6a2db0"/>
<rect x="990.7" y="570.4" width="102.3" height="45.8" rx="4" fill="#3f0591"/>
<text x="554.00" y="607.40" font-size="33.5" font-weight="bold" fill="#ffffff" stroke="#ffffff" stroke-width="1.2" stroke-linejoin="miter" stroke-miterlimit="2" textLength="131.00" lengthAdjust="spacingAndGlyphs">ATIVOS</text>
<text x="1021.45" y="606.90" font-size="35.73" font-weight="bold" fill="#ffffff" stroke="#ffffff" stroke-width="1.2" stroke-linejoin="miter" stroke-miterlimit="2" textLength="41.05" lengthAdjust="spacingAndGlyphs">19</text>
<rect x="532.5" y="625.1" width="560.5" height="46.6" rx="4" fill="#00cf8e"/>
<rect x="990.7" y="625.1" width="102.3" height="46.6" rx="4" fill="#008c69"/>
<text x="554.00" y="661.90" font-size="33.87" font-weight="bold" fill="#ffffff" stroke="#ffffff" stroke-width="1.2" stroke-linejoin="miter" stroke-miterlimit="2" textLength="172.00" lengthAdjust="spacingAndGlyphs">CURADOS</text>
<text x="1021.00" y="661.20" font-size="35.45" font-weight="bold" fill="#ffffff" stroke="#ffffff" stroke-width="1.2" stroke-linejoin="miter" stroke-miterlimit="2" textLength="41.51" lengthAdjust="spacingAndGlyphs">08</text>
<rect x="532.5" y="679.2" width="560.5" height="46.3" rx="4" fill="#363435"/>
<rect x="990.7" y="679.2" width="102.3" height="46.3" rx="4" fill="#626163"/>
<text x="554.00" y="716.80" font-size="33.72" font-weight="bold" fill="#ffffff" stroke="#ffffff" stroke-width="1.2" stroke-linejoin="miter" stroke-miterlimit="2" textLength="132.00" lengthAdjust="spacingAndGlyphs">ÓBITOS</text>
<text x="1020.00" y="715.60" font-size="36.72" font-weight="bold" fill="#ffffff" stroke="#ffffff" stroke-width="1.2" stroke-linejoin="miter" stroke-miterlimit="2" textLength="42.52" lengthAdjust="spacingAndGlyphs">02</text>
<text x="145.49" y="768.55" font-size="24.71" font-weight="bold" fill="#2b2a29" stroke="#2b2a29" stroke-width="0.7" stroke-linejoin="miter" stroke-miterlimit="2" textLength="35.53" lengthAdjust="spacingAndGlyphs">OS</text>
<text x="188.49" y="768.55" font-size="24.71" font-weight="bold" fill="#2b2a29" stroke="#2b2a29" stroke-width="0.7" stroke-linejoin="miter" stroke-miterlimit="2" textLength="135.01" lengthAdjust="spacingAndGlyphs">CURADOS</text>
<text x="330.45" y="768.55" font-size="24.71" font-weight="bold" fill="#2b2a29" stroke="#2b2a29" stroke-width="0.7" stroke-linejoin="miter" stroke-miterlimit="2" textLength="14.10" lengthAdjust="spacingAndGlyphs">E</text>
<text x="354.99" y="768.55" font-size="24.71" font-weight="bold" fill="#2b2a29" stroke="#2b2a29" stroke-width="0.7" stroke-linejoin="miter" stroke-miterlimit="2" textLength="103.01" lengthAdjust="spacingAndGlyphs">ÓBITOS</text>
<text x="465.00" y="768.55" font-size="24.71" font-weight="bold" fill="#2b2a29" stroke="#2b2a29" stroke-width="0.7" stroke-linejoin="miter" stroke-miterlimit="2" textLength="88.00" lengthAdjust="spacingAndGlyphs">ESTÃO</text>
<text x="561.50" y="768.55" font-size="24.71" font-weight="bold" fill="#2b2a29" stroke="#2b2a29" stroke-width="0.7" stroke-linejoin="miter" stroke-miterlimit="2" textLength="140.50" lengthAdjust="spacingAndGlyphs">INCLUSOS</text>
<text x="709.98" y="768.55" font-size="24.71" font-weight="bold" fill="#2b2a29" stroke="#2b2a29" stroke-width="0.7" stroke-linejoin="miter" stroke-miterlimit="2" textLength="38.04" lengthAdjust="spacingAndGlyphs">NO</text>
<text x="755.99" y="768.55" font-size="24.71" font-weight="bold" fill="#2b2a29" stroke="#2b2a29" stroke-width="0.7" stroke-linejoin="miter" stroke-miterlimit="2" textLength="123.51" lengthAdjust="spacingAndGlyphs">NÚMERO</text>
<text x="887.99" y="768.55" font-size="24.71" font-weight="bold" fill="#2b2a29" stroke="#2b2a29" stroke-width="0.7" stroke-linejoin="miter" stroke-miterlimit="2" textLength="33.02" lengthAdjust="spacingAndGlyphs">DE</text>
<text x="929.00" y="768.55" font-size="24.71" font-weight="bold" fill="#2b2a29" stroke="#2b2a29" stroke-width="0.7" stroke-linejoin="miter" stroke-miterlimit="2" textLength="205.50" lengthAdjust="spacingAndGlyphs">CONFIRMADOS</text>
<rect x="141.2" y="791.4" width="997.4" height="85.4" rx="6" fill="#ffd42a"/>
<rect x="927" y="791.4" width="12" height="85.4" fill="url(#sh)"/>
<rect x="937.1" y="791.4" width="201.5" height="85.4" rx="6" fill="#ffb400"/>
<text x="164.50" y="854.80" font-size="58.87" font-weight="bold" fill="#ffffff" stroke="#ffffff" stroke-width="3.0" stroke-linejoin="miter" stroke-miterlimit="2" textLength="184.26" lengthAdjust="spacingAndGlyphs">CASOS</text>
<text x="367.49" y="854.80" font-size="58.87" font-weight="bold" fill="#ffffff" stroke="#ffffff" stroke-width="3.0" stroke-linejoin="miter" stroke-miterlimit="2" textLength="418.02" lengthAdjust="spacingAndGlyphs">MONITORADOS</text>
<text x="980.49" y="860.15" font-size="72.88" font-weight="bold" fill="#ffffff" stroke="#ffffff" stroke-width="2.5" stroke-linejoin="miter" stroke-miterlimit="2" textLength="120.02" lengthAdjust="spacingAndGlyphs">268</text>
<rect x="141.2" y="889.6" width="997.4" height="85.4" rx="6" fill="#f58634"/>
<rect x="927" y="889.6" width="12" height="85.4" fill="url(#sh)"/>
<rect x="937.1" y="889.6" width="201.5" height="85.4" rx="6" fill="#cf7330"/>
<text x="164.50" y="953.00" font-size="58.58" font-weight="bold" fill="#ffffff" stroke="#ffffff" stroke-width="3.0" stroke-linejoin="miter" stroke-miterlimit="2" textLength="184.26" lengthAdjust="spacingAndGlyphs">CASOS</text>
<text x="367.49" y="953.00" font-size="58.58" font-weight="bold" fill="#ffffff" stroke="#ffffff" stroke-width="3.0" stroke-linejoin="miter" stroke-miterlimit="2" textLength="418.01" lengthAdjust="spacingAndGlyphs">DESCARTADOS</text>
<text x="988.89" y="958.15" font-size="72.88" font-weight="bold" fill="#ffffff" stroke="#ffffff" stroke-width="2.5" stroke-linejoin="miter" stroke-miterlimit="2" textLength="120.14" lengthAdjust="spacingAndGlyphs">106</text>
<rect x="141.2" y="988.6" width="997.4" height="85.4" rx="6" fill="#30406e"/>
<rect x="927" y="988.6" width="12" height="85.4" fill="url(#sh)"/>
<rect x="937.1" y="988.6" width="201.5" height="85.4" rx="6" fill="#2c3963"/>
<text x="164.50" y="1046.05" font-size="41.28" font-weight="bold" fill="#ffffff" stroke="#ffffff" stroke-width="1.5" stroke-linejoin="miter" stroke-miterlimit="2" textLength="150.50" lengthAdjust="spacingAndGlyphs">TESTES</text>
<text x="328.99" y="1046.05" font-size="41.28" font-weight="bold" fill="#ffffff" stroke="#ffffff" stroke-width="1.5" stroke-linejoin="miter" stroke-miterlimit="2" textLength="175.01" lengthAdjust="spacingAndGlyphs">RÁPIDOS</text>
<text x="515.99" y="1046.05" font-size="41.28" font-weight="bold" fill="#ffffff" stroke="#ffffff" stroke-width="1.5" stroke-linejoin="miter" stroke-miterlimit="2" textLength="251.01" lengthAdjust="spacingAndGlyphs">REALIZADOS</text>
<text x="981.49" y="1057.35" font-size="72.88" font-weight="bold" fill="#ffffff" stroke="#ffffff" stroke-width="2.5" stroke-linejoin="miter" stroke-miterlimit="2" textLength="120.02" lengthAdjust="spacingAndGlyphs">362</text>
<rect x="482" y="1118" width="315.5" height="125" fill="#fdfeff"/>
<rect x="485" y="1120" width="309.6" height="100" fill="#1779be"/>
<g id="seal">
<circle cx="544.0" cy="1173.0" r="34.1" fill="#ffffff"/>
<ellipse cx="544.0" cy="1171.4" rx="21.6" ry="24" fill="#1779be"/>
<path id="arcT" d="M519.80,1161.72 A26.7,26.7 0 0 1 568.20,1161.72" fill="none"/>
<path id="arcB" d="M512.09,1178.63 A32.4,32.4 0 0 0 575.91,1178.63" fill="none"/>
<text font-size="8.3" font-weight="bold" fill="#1779be" stroke="#1779be" stroke-width="0.25" letter-spacing="0.55"><textPath href="#arcT" startOffset="50%" text-anchor="middle">ITABERABA</textPath></text>
<text font-size="7.6" font-weight="bold" fill="#1779be" stroke="#1779be" stroke-width="0.2" letter-spacing="0.1"><textPath href="#arcB" startOffset="50%" text-anchor="middle">26 MARÇO 1877</textPath></text>
<path d="M508.5,1166.5 L516.5,1169.8 L516.5,1172.4 L508.5,1170.2 Z" fill="#1779be"/>
<path d="M508.5,1178.8 L521.5,1175.4 L521.5,1176.8 L508.5,1180.6 Z" fill="#1779be"/>
<path d="M515.5,1168.0 L522.8,1165.5 L522.8,1169.4 Z" fill="#1779be"/>
<path d="M579.5,1166.5 L571.5,1169.8 L571.5,1172.4 L579.5,1170.2 Z" fill="#1779be"/>
<path d="M579.5,1178.8 L566.5,1175.4 L566.5,1176.8 L579.5,1180.6 Z" fill="#1779be"/>
<path d="M572.5,1168.0 L565.2,1165.5 L565.2,1169.4 Z" fill="#1779be"/>
<path d="M531.62,1166.75 L523.83,1166.34 M532.17,1163.67 L524.73,1161.33 M533.48,1160.83 L526.87,1156.70 M535.46,1158.41 L530.10,1152.75 M537.99,1156.55 L534.21,1149.73 M540.90,1155.39 L538.94,1147.84 M544.00,1155.00 L544.00,1147.20 M547.10,1155.39 L549.06,1147.84 M550.01,1156.55 L553.79,1149.73 M552.54,1158.41 L557.90,1152.75 M554.52,1160.83 L561.13,1156.70 M555.83,1163.67 L563.27,1161.33 M556.38,1166.75 L564.17,1166.34" stroke="#fff" stroke-width="2.0" fill="none"/>
<path d="M531.70,1168.80 A12.3,12.3 0 0 1 556.30,1168.80 Z" fill="#fff"/>
<rect x="523.20" y="1168.80" width="41.6" height="1.5" fill="#fff"/>
<path d="M544.00,1159.00 L535.40,1168.80 L552.60,1168.80 Z" fill="#1779be"/>
<path d="M544.00,1175.80 L533.80,1192.70 L554.20,1192.70 Z" fill="#fff"/>
<path d="M540.30,1182.60 h7.4 l-1.2,4.6 h-1 v3 h-3 v-3 h-1 Z" fill="#1779be"/>
<rect x="543.40" y="1188.00" width="1.2" height="2.2" fill="#fff"/>
<path d="M540.50,1183.00 l-2.4,-1.4 M547.50,1183.00 l2.4,-1.4" stroke="#1779be" stroke-width="0.9" fill="none"/>
<circle cx="527.60" cy="1177.60" r="1.15" fill="#fff"/>
<circle cx="530.00" cy="1176.60" r="1.25" fill="#fff"/>
<circle cx="532.80" cy="1176.40" r="1.25" fill="#fff"/>
<circle cx="535.40" cy="1177.20" r="1.15" fill="#fff"/>
<circle cx="531.60" cy="1178.80" r="1.1" fill="#fff"/>
<circle cx="532.60" cy="1181.00" r="0.95" fill="#fff"/>
<circle cx="534.00" cy="1183.20" r="0.95" fill="#fff"/>
<circle cx="535.40" cy="1185.00" r="0.8" fill="#fff"/>
<circle cx="529.40" cy="1182.40" r="0.9" fill="#fff"/>
<circle cx="527.60" cy="1182.60" r="0.8" fill="#fff"/>
<circle cx="551.60" cy="1177.60" r="1.15" fill="#fff"/>
<circle cx="554.00" cy="1176.60" r="1.25" fill="#fff"/>
<circle cx="556.80" cy="1176.40" r="1.25" fill="#fff"/>
<circle cx="559.40" cy="1177.20" r="1.15" fill="#fff"/>
<circle cx="555.60" cy="1178.80" r="1.1" fill="#fff"/>
<circle cx="555.40" cy="1181.00" r="0.95" fill="#fff"/>
<circle cx="554.00" cy="1183.20" r="0.95" fill="#fff"/>
<circle cx="552.60" cy="1185.00" r="0.8" fill="#fff"/>
<circle cx="558.60" cy="1182.40" r="0.9" fill="#fff"/>
<circle cx="560.40" cy="1182.60" r="0.8" fill="#fff"/>
</g>
<text transform="translate(625.75,1160.52) scale(1.15,1)" font-size="11.85" font-weight="normal" fill="#ffffff" stroke="#ffffff" stroke-width="0.15" stroke-linejoin="miter" stroke-miterlimit="2" textLength="92.83" lengthAdjust="spacing">PREFEITURA</text>
<text x="593.75" y="1190.30" font-size="33.58" font-weight="bold" fill="#ffffff" stroke="#ffffff" stroke-width="2" stroke-linejoin="miter" stroke-miterlimit="2" textLength="175.26" lengthAdjust="spacingAndGlyphs">ITABERABA</text>
<text transform="translate(491.25,1236.00) scale(1.3,1)" font-size="13.81" font-weight="bold" fill="#1779be" stroke="#1779be" stroke-width="0.6" stroke-linejoin="miter" stroke-miterlimit="2" textLength="80.19" lengthAdjust="spacing">CIDADE</text>
<text transform="translate(630.00,1236.00) scale(1.3,1)" font-size="13.81" font-weight="bold" fill="#1779be" stroke="#1779be" stroke-width="0.6" stroke-linejoin="miter" stroke-miterlimit="2" textLength="23.46" lengthAdjust="spacing">DE</text>
<text transform="translate(689.75,1236.00) scale(1.3,1)" font-size="13.81" font-weight="bold" fill="#1779be" stroke="#1779be" stroke-width="0.6" stroke-linejoin="miter" stroke-miterlimit="2" textLength="74.23" lengthAdjust="spacing">TODOS</text>
</svg>
</body>
</html>
